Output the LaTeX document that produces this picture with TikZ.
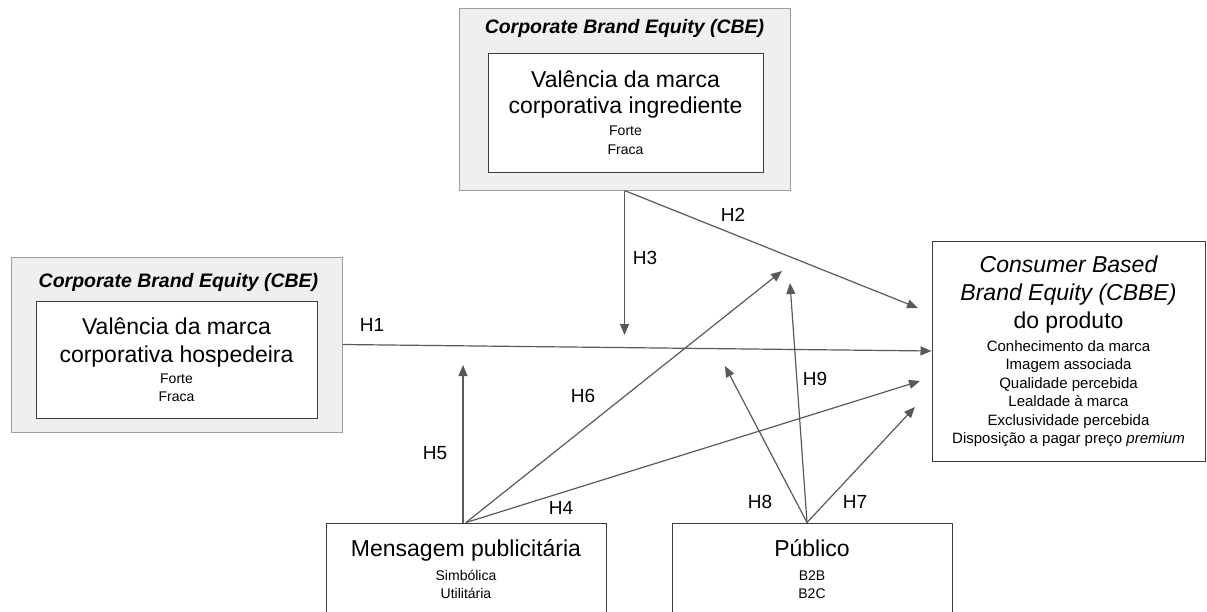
\documentclass[tikz,border=0pt]{standalone}
\usepackage{fontspec}
\setmainfont{Liberation Sans}
\usetikzlibrary{arrows.meta}
\definecolor{cbefill}{HTML}{EFEFEF}
\definecolor{boxgray}{HTML}{9E9E9E}
\definecolor{boxdark}{HTML}{3C3C3C}
\definecolor{arrowgray}{HTML}{595959}
\newcommand{\txtbig}{\fontsize{23}{28}\selectfont}
\newcommand{\txtsmall}{\fontsize{14}{18}\selectfont}
\newcommand{\txtlist}{\fontsize{15}{18}\selectfont}
\newcommand{\txttitle}{\fontsize{19.5}{22}\selectfont\bfseries\itshape}

\begin{document}
\begin{tikzpicture}[x=1pt,y=-1pt,
        outerbox/.style={draw=boxgray,fill=cbefill,line width=1pt,minimum width=331pt,inner sep=0pt},
        innerbox/.style={draw=boxdark,fill=white,line width=1pt,align=center,inner sep=0pt,font=\txtbig},
        hyp/.style={draw=arrowgray,line width=1.2pt,-{Triangle[length=11pt,width=9pt]}},
        hlabel/.style={font=\fontsize{19}{22}\selectfont}]
        \useasboundingbox (0,0) rectangle (1207,611);
        \clip (0,0) rectangle (1207,611);
        % CBE boxes
        \node[outerbox,minimum height=182pt] (cbeIngr) at (624.5,99) {};
        \node[font=\txttitle] (ingrTitle) at (624.5,28) {Corporate Brand Equity (CBE)};
        \node[innerbox,minimum width=275pt,minimum height=119pt] (ingr) at (625.5,112.5)
            {Valência da marca\\[-2pt]corporativa ingrediente\\[-6pt]\txtsmall Forte\\[-9.5pt]\txtsmall Fraca};
        \node[outerbox,minimum height=175pt] (cbeHost) at (176.5,344.5) {};
        \node[font=\txttitle] (hostTitle) at (178.5,282) {Corporate Brand Equity (CBE)};
        \node[innerbox,minimum width=281pt,minimum height=117pt] (host) at (176.5,359.5)
            {Valência da marca\\corporativa hospedeira\\[-7pt]\txtsmall Forte\\[-9.5pt]\txtsmall Fraca};
        % CBBE
        \node[innerbox,minimum width=273pt,minimum height=220pt] (cbbe) at (1068.5,351)
            {\itshape Consumer Based\\\itshape Brand Equity (CBBE)\\do produto\\[-5pt]
             \txtlist Conhecimento da marca\\[-9.5pt]\txtlist Imagem associada\\[-9.5pt]\txtlist Qualidade percebida\\[-9.5pt]
             \txtlist Lealdade à marca\\[-9.5pt]\txtlist Exclusividade percebida\\[-9.5pt]
             \txtlist Disposição a pagar preço \textit{premium}};
        % moderadores
        \node[innerbox,minimum width=280pt,minimum height=92pt] (msg) at (466,569)
            {Mensagem publicitária\\[-4pt]\txtsmall Simbólica\\[-10pt]\txtsmall Utilitária};
        \node[innerbox,minimum width=280pt,minimum height=92pt] (pub) at (812,569)
            {Público\\[-4pt]\txtsmall B2B\\[-10pt]\txtsmall B2C};

        \coordinate (h2end) at (918,308);
        \coordinate (h3end) at (624.5,335);
        \coordinate (h4end) at (920,381);
        \coordinate (h5end) at (463,365);
        \coordinate (h6end) at (782,271);
        \coordinate (h7end) at (915,407);
        \coordinate (h8end) at (725,366);
        \coordinate (h9end) at (790,283);
        \coordinate (apex) at ([xshift=-5pt]pub.north);

        \draw[hyp] (cbeHost.east) -- (cbbe.west);
        \draw[hyp] (cbeIngr.south) -- (h2end);
        \draw[hyp] (cbeIngr.south) -- (h3end);
        \draw[hyp] (msg.north) -- (h4end);
        \draw[hyp] (msg.north -| h5end) -- (h5end);
        \draw[hyp] (msg.north) -- (h6end);
        \draw[hyp] (apex) -- (h7end);
        \draw[hyp] (apex) -- (h8end);
        \draw[hyp] (apex) -- (h9end);

        \node[hlabel] (lH1) at (372,325) {H1};
        \node[hlabel] (lH2) at (733,215) {H2};
        \node[hlabel] (lH3) at (645,258) {H3};
        \node[hlabel] (lH4) at (561,508) {H4};
        \node[hlabel] (lH5) at (435,453) {H5};
        \node[hlabel] (lH6) at (583,396) {H6};
        \node[hlabel] (lH7) at (855,502) {H7};
        \node[hlabel] (lH8) at (760,502) {H8};
        \node[hlabel] (lH9) at (815,379) {H9};
    \end{tikzpicture}
\end{document}
